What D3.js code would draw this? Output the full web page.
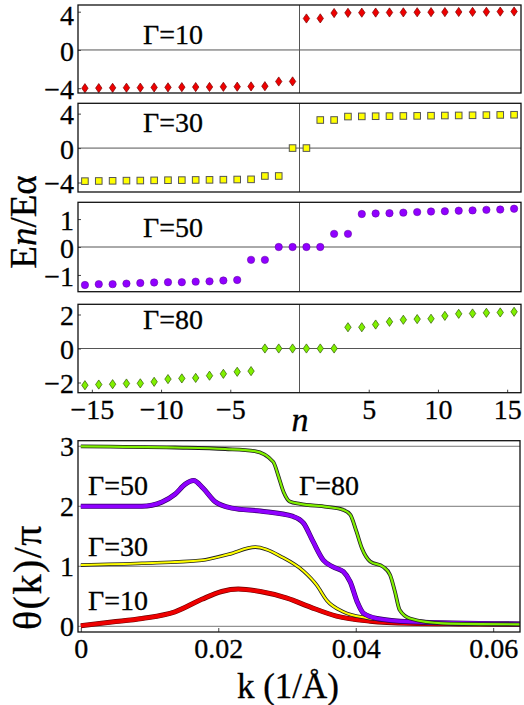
<!DOCTYPE html>
<html><head><meta charset="utf-8">
<script src="https://cdn.jsdelivr.net/npm/d3@7/dist/d3.min.js"></script>
<style>
body{margin:0;background:#fff}
svg{display:block}
</style>
</head><body>
<svg id="chart" width="524" height="705"></svg>
<script>
// ---------- data ----------
const nValues = [-15.5,-14.5,-13.5,-12.5,-11.5,-10.5,-9.5,-8.5,-7.5,-6.5,-5.5,-4.5,-3.5,-2.5,-1.5,-0.5,
                 0.5,1.5,2.5,3.5,4.5,5.5,6.5,7.5,8.5,9.5,10.5,11.5,12.5,13.5,14.5,15.5];
const energyG10 = [-4.00,-3.99,-3.96,-3.95,-3.94,-3.92,-3.91,-3.89,-3.88,-3.87,-3.85,-3.84,-3.81,-3.79,-3.30,-3.29,
                   3.29,3.30,3.86,3.88,3.90,3.91,3.92,3.93,3.94,3.95,3.96,3.97,3.98,3.99,4.01,4.02];
const energyG30 = [-3.84,-3.82,-3.80,-3.78,-3.77,-3.75,-3.73,-3.72,-3.70,-3.69,-3.67,-3.65,-3.63,-3.24,-3.24,0.00,
                   0.00,3.26,3.26,3.66,3.68,3.70,3.71,3.73,3.74,3.76,3.78,3.79,3.81,3.83,3.85,3.87];
const energyG50 = [-1.36,-1.33,-1.33,-1.31,-1.29,-1.27,-1.26,-1.26,-1.24,-1.23,-1.20,-1.18,-0.46,-0.46,0.00,0.00,
                   0.00,0.00,0.47,0.47,1.18,1.20,1.21,1.23,1.25,1.27,1.28,1.30,1.31,1.33,1.34,1.37];
const energyG80 = [-2.16,-2.12,-2.10,-2.06,-2.05,-1.96,-1.80,-1.76,-1.73,-1.60,-1.49,-1.37,-1.33,0.00,0.00,0.00,
                   0.00,0.00,0.00,1.25,1.25,1.41,1.57,1.69,1.73,1.75,1.92,2.04,2.06,2.10,2.12,2.16];
const gammaLabels = ["Γ=10","Γ=30","Γ=50","Γ=80"];
const energyTicks = [[-4,0,4],[-4,0,4],[-1,0,1],[-2,0,2]];
const nTicks = [-15,-10,-5,5,10,15];

const kG10 = [0,0.0045,0.0089,0.0137,0.0176,0.0205,0.0229,0.0261,0.030,0.0334,0.0372,0.0421,0.0479,0.055,0.0639];
const thetaG10 = [0.01,0.07,0.13,0.24,0.45,0.58,0.62,0.58,0.47,0.32,0.17,0.085,0.05,0.04,0.035];
const kG30 = [0,0.0089,0.0176,0.0215,0.0254,0.027,0.029,0.0324,0.0343,0.0358,0.0382,0.0416,0.0455,0.050,0.0639];
const thetaG30 = [1.02,1.05,1.10,1.20,1.32,1.28,1.17,0.92,0.69,0.43,0.24,0.14,0.09,0.06,0.035];
const kG50 = [0,0.0089,0.0118,0.0137,0.0152,0.0164,0.0178,0.0195,0.022,0.0261,0.0309,0.0324,0.0338,0.0353,0.0367,0.0382,0.0392,0.0402,0.0411,0.0431,0.0479,0.0639];
const thetaG50 = [2.0,2.0,2.07,2.2,2.37,2.43,2.3,2.08,1.97,1.92,1.83,1.72,1.41,1.10,0.99,0.91,0.74,0.41,0.22,0.13,0.077,0.04];
const kG80 = [0,0.0137,0.021,0.0253,0.0280,0.0287,0.0295,0.0304,0.0319,0.0358,0.0382,0.0392,0.0401,0.0409,0.0421,0.044,0.0450,0.0457,0.0464,0.0479,0.0527,0.0639];
const thetaG80 = [3.0,2.98,2.955,2.92,2.74,2.52,2.24,2.08,2.04,1.99,1.94,1.86,1.58,1.30,1.08,0.99,0.855,0.58,0.27,0.13,0.05,0.033];
const kTicks = [0,0.02,0.04,0.06];
const thetaTicks = [0,1,2,3];

// ---------- drawing ----------
const svg = d3.select("#chart");
const FONT = "'Liberation Serif'";
const FS = 28;
const LFS = 37;
const X0 = 78, X1 = 521;
const xN = d3.scaleLinear().domain([-16,16]).range([X0,X1]);
const minus = d=> d<0 ? "\u2212"+Math.abs(d) : String(d);
const styleText = sel => sel.attr("font-family",FONT).attr("fill","#000")
  .attr("stroke","#000").attr("stroke-width",0.3);

const panels = [
  {vals: energyG10, top: 5,     bot: 93,    dom: [-4.5,4.7], lab: [143,44],  mark:"diamond", fill:"#ee0000", stroke:"#7a0000"},
  {vals: energyG30, top: 103.3, bot: 192,   dom: [-5.1,5.2], lab: [143,132], mark:"square",  fill:"#ffff00", stroke:"#555"},
  {vals: energyG50, top: 202.3, bot: 291.7, dom: [-1.6,1.6], lab: [143,237], mark:"circle",  fill:"#9000ff", stroke:"#5a0099"},
  {vals: energyG80, top: 304.3, bot: 392.7, dom: [-2.6,2.6], lab: [143,329], mark:"diamond", fill:"#80f000", stroke:"#2f5a00"}
];

panels.forEach((p,i)=>{
  const y = d3.scaleLinear().domain(p.dom).range([p.bot,p.top]);
  const g = svg.append("g");
  g.append("line").attr("x1",X0).attr("x2",X1).attr("y1",y(0)).attr("y2",y(0))
    .attr("stroke","#555").attr("stroke-width",1);
  g.append("line").attr("x1",xN(0)).attr("x2",xN(0)).attr("y1",p.top).attr("y2",p.bot)
    .attr("stroke","#555").attr("stroke-width",1);
  const ax = g.append("g").attr("transform",`translate(${X0},0)`)
    .call(d3.axisLeft(y).tickValues(energyTicks[i]).tickSize(-3).tickPadding(4).tickFormat(minus));
  ax.attr("font-family",FONT);
  ax.select(".domain").remove();
  ax.selectAll(".tick line").attr("stroke","#444");
  ax.selectAll("text").attr("font-size",FS)
    .attr("dy", d => (i===0 && d>0) ? "0.44em" : "0.36em").call(styleText);
  if (i===3){
    const bx = g.append("g").attr("transform",`translate(0,${p.bot})`)
      .call(d3.axisBottom(xN).tickValues(nTicks).tickSize(-3).tickPadding(6).tickFormat(minus));
    bx.attr("font-family",FONT);
    bx.select(".domain").remove();
    bx.selectAll(".tick line").attr("stroke","#444");
    bx.selectAll("text").attr("font-size",FS).call(styleText);
  }
  const mk = g.append("g");
  p.vals.forEach((v,j)=>{
    const cx = xN(nValues[j]), cy = y(v);
    if (p.mark==="diamond"){
      mk.append("path").attr("d",`M${cx},${cy-4.6}L${cx+3.2},${cy}L${cx},${cy+4.6}L${cx-3.2},${cy}Z`)
        .attr("fill",p.fill).attr("stroke",p.stroke).attr("stroke-width",0.7);
    } else if (p.mark==="square"){
      mk.append("rect").attr("x",cx-3.3).attr("y",cy-3.3).attr("width",6.6).attr("height",6.6)
        .attr("fill",p.fill).attr("stroke",p.stroke).attr("stroke-width",1);
    } else {
      mk.append("circle").attr("cx",cx).attr("cy",cy).attr("r",3.7)
        .attr("fill",p.fill).attr("stroke",p.stroke).attr("stroke-width",0.5);
    }
  });
  g.append("rect").attr("x",X0).attr("y",p.top).attr("width",X1-X0).attr("height",p.bot-p.top)
    .attr("fill","none").attr("stroke","#111").attr("stroke-width",1.3);
  g.append("text").attr("x",p.lab[0]).attr("y",p.lab[1]).attr("font-size",FS)
    .call(styleText).text(gammaLabels[i]);
});

svg.append("text").attr("x",300).attr("y",431).attr("text-anchor","middle")
  .attr("font-size",34).attr("font-style","italic").call(styleText).text("n");
const yl = svg.append("text").attr("transform","translate(36,222) rotate(-90)")
  .attr("text-anchor","middle").attr("font-size",LFS).call(styleText);
yl.append("tspan").text("E");
yl.append("tspan").attr("font-style","italic").text("n");
yl.append("tspan").text("/E\u03B1");

// ---------- bottom panel ----------
const BX0 = 78, BX1 = 520, BY0 = 440.7, BY1 = 632;
const xK = d3.scaleLinear().domain([-0.00041,0.0639]).range([BX0,BX1]);
const yT = d3.scaleLinear().domain([-0.095,3.093]).range([BY1,BY0]);
const bg = svg.append("g");
thetaTicks.forEach(t=>{
  bg.append("line").attr("x1",BX0).attr("x2",BX1).attr("y1",yT(t)).attr("y2",yT(t))
    .attr("stroke","#777").attr("stroke-width",1);
});
const lax = bg.append("g").attr("transform",`translate(${BX0},0)`)
  .call(d3.axisLeft(yT).tickValues(thetaTicks).tickSize(0).tickPadding(4).tickFormat(d3.format("d")));
lax.attr("font-family",FONT);
lax.select(".domain").remove();
lax.selectAll("text").attr("font-size",FS).attr("dy","0.34em").call(styleText);
const bax = bg.append("g").attr("transform",`translate(0,${BY1})`)
  .call(d3.axisBottom(xK).tickValues(kTicks).tickSize(-4).tickPadding(6)
    .tickFormat(d=> d===0 ? "0" : d3.format(".2f")(d)));
bax.attr("font-family",FONT);
bax.select(".domain").remove();
bax.selectAll(".tick line").attr("stroke","#444");
bax.selectAll("text").attr("font-size",FS).call(styleText);

const curves = [
  {k:kG10, t:thetaG10, col:"#ee0000", edge:"#6a0000", w:3.8, ew:5.0},
  {k:kG30, t:thetaG30, col:"#ffff00", edge:"#222",    w:2.0, ew:3.6},
  {k:kG50, t:thetaG50, col:"#8f00ff", edge:"#300060", w:3.8, ew:5.0},
  {k:kG80, t:thetaG80, col:"#80f000", edge:"#222",    w:2.2, ew:3.8}
];
const line = d3.line().x(d=>xK(d[0])).y(d=>yT(d[1])).curve(d3.curveMonotoneX);
curves.forEach(c=>{
  const pts = c.k.map((k,i)=>[k,c.t[i]]);
  bg.append("path").attr("d",line(pts)).attr("fill","none").attr("stroke",c.edge)
    .attr("stroke-width",c.ew).attr("stroke-linejoin","round");
  bg.append("path").attr("d",line(pts)).attr("fill","none").attr("stroke",c.col)
    .attr("stroke-width",c.w).attr("stroke-linejoin","round");
});
bg.append("rect").attr("x",BX0).attr("y",BY0).attr("width",BX1-BX0).attr("height",BY1-BY0)
  .attr("fill","none").attr("stroke","#111").attr("stroke-width",1.3);

const curveLabelPos = [[88,610],[88,555.5],[88,495],[299,494.5]];
curveLabelPos.forEach((p,i)=>{
  bg.append("text").attr("x",p[0]).attr("y",p[1]).attr("font-size",FS)
    .call(styleText).text(gammaLabels[i]);
});

svg.append("text").attr("x",288).attr("y",698).attr("text-anchor","middle")
  .attr("font-size",35).call(styleText).text("k (1/\u00C5)");
svg.append("text").attr("transform","translate(41,577) rotate(-90)")
  .attr("text-anchor","middle").attr("font-size",40).attr("letter-spacing",1.5)
  .call(styleText).text("\u03B8(k)/\u03C0");
</script>
</body></html>
